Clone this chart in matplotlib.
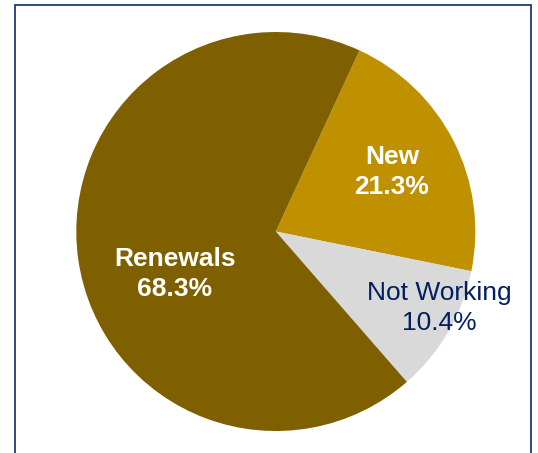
import numpy as np
import matplotlib.pyplot as plt
from matplotlib.patches import Rectangle

plt.rcParams['font.family'] = ['Liberation Sans', 'DejaVu Sans']

# slices, clockwise from the top
names = ['New', 'Not Working', 'Renewals']
shares = [21.3, 10.4, 68.3]
colors = ['#BF9000', '#D9D9D9', '#7F6000']
text_colors = ['white', '#002060', 'white']
weights = ['bold', 'normal', 'bold']

# label placement (radius as fraction of pie radius, angle in degrees)
label_pos = [(0.655, 27.2), (0.905, -25.1), (0.55, 202.9)]

W, H = 538, 453
fig = plt.figure(figsize=(W / 100, H / 100), dpi=100)
ax = fig.add_axes([0, 0, 1, 1])

cx, cy, R = 275.8, H - 231.5, 199.5

wedges, texts = ax.pie(shares, colors=colors, startangle=65.2, counterclock=False,
                       center=(cx, cy), radius=R, frame=True,
                       labels=[f'{n}\n{s}%' for n, s in zip(names, shares)],
                       wedgeprops=dict(linewidth=0))
ax.set_xlim(0, W)
ax.set_ylim(0, H)
ax.axis('off')

for t, (r, a), c, w in zip(texts, label_pos, text_colors, weights):
    t.set_position((cx + r * R * np.cos(np.radians(a)), cy + r * R * np.sin(np.radians(a))))
    t.set_ha('center')
    t.set_va('center')
    t.set_color(c)
    t.set_fontweight(w)
    t.set_fontsize(19)
    t.set_linespacing(1.32)

# navy frame around the chart, runs off the bottom
ax.add_patch(Rectangle((14.5, -20), 516.5, H - 4.5 + 20, fill=False,
                       edgecolor='#1F3A78', linewidth=1.3, clip_on=False))

fig.savefig('out.png', dpi=100)
